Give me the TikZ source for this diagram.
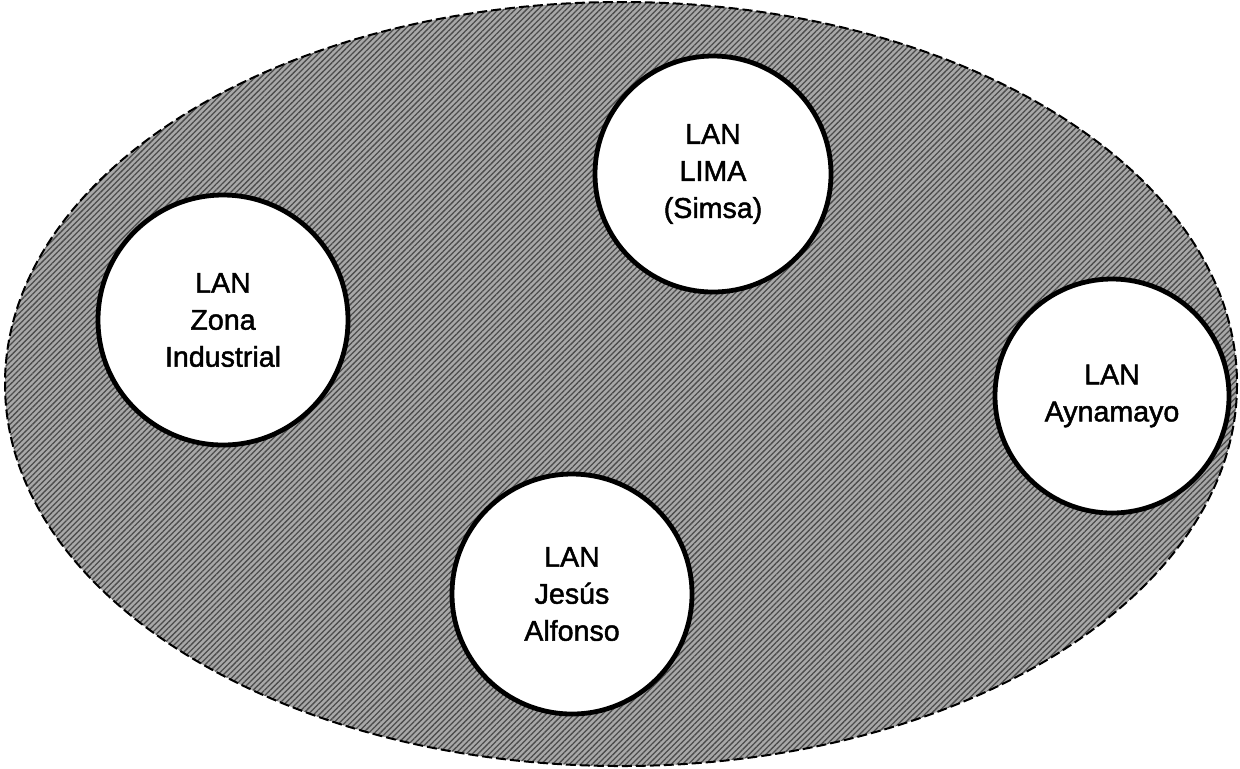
\documentclass[tikz,border=0pt]{standalone}
\usepackage{fontspec}
\setmainfont{Liberation Sans}
\newfontfamily\lanfont[FakeBold=1.6]{Liberation Sans}
\usetikzlibrary{patterns.meta}
\definecolor{hatchbg}{gray}{0.66}
\definecolor{hatchln}{gray}{0.3}
\tikzset{
  lan/.style={circle, draw=black, line width=2.4pt, fill=white, inner sep=0pt,
    align=center, font=\lanfont\fontsize{14.3}{18.5}\selectfont},
  outer/.style={draw=black, line width=1pt, dash pattern=on 5pt off 2pt}
}
\begin{document}
\begin{tikzpicture}[x=0.5pt,y=-0.5pt]
\useasboundingbox (0,0) rectangle (1240,768);
\fill[white] (0,0) rectangle (1240,768);
\coordinate (c) at (621,384);
\fill[hatchbg] (c) ellipse [x radius=616, y radius=382];
\fill[pattern={Lines[angle=45,distance=2pt,line width=0.65pt]}, pattern color=hatchln] (c) ellipse [x radius=616, y radius=382];
\draw[outer] (c) ellipse [x radius=616, y radius=382];
\node[lan, minimum size=118pt] (lima) at (713,174) {LAN\\LIMA\\(Simsa)};
\node[lan, minimum size=125pt] (zona) at (223,320) {LAN\\Zona\\Industrial};
\node[lan, minimum size=117pt] (ayna) at (1112,396) {LAN\\Aynamayo};
\node[lan, minimum size=120pt] (jesus) at (572,594) {LAN\\Jesús\\Alfonso};
\end{tikzpicture}
\end{document}
